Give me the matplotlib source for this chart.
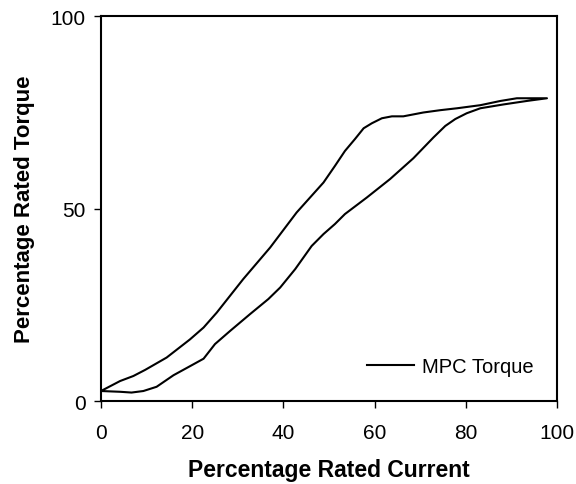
import matplotlib
matplotlib.use("Agg")
import matplotlib.pyplot as plt

plt.rcParams["font.family"] = ["Liberation Sans", "DejaVu Sans"]

# loop: rising branch (upper) then falling branch (lower) back to start
current = [0, 4.2, 7.1, 9.7, 14.4, 19.5, 22.5, 25.4, 31.2, 37.1, 42.9, 48.8,
           51.3, 53.5, 55.7, 57.6, 59.4, 61.6, 63.8, 66.3, 70.7, 74.4, 78.1,
           83.2, 87.6, 91.2, 97.8,
           93.4, 88.3, 83.2, 80.2, 77.7, 75.5, 72.9, 68.5, 63.4, 58.3, 53.5,
           51.3, 48.8, 46.2, 42.6, 39.3, 36.7, 32.7, 28.3, 25.0, 22.5, 19.9,
           15.9, 12.2, 9.3, 6.7, 4.2, 0]
torque = [2.6, 5.2, 6.5, 8.1, 11.3, 16.0, 19.1, 23.0, 31.7, 39.9, 49.0, 56.8,
          61.1, 65.0, 68.1, 70.9, 72.2, 73.5, 74.0, 74.0, 75.0, 75.6, 76.1,
          76.9, 78.0, 78.7, 78.7,
          78.0, 77.1, 76.1, 74.8, 73.3, 71.5, 68.5, 63.1, 57.7, 52.9, 48.6,
          46.0, 43.4, 40.3, 34.3, 29.5, 26.5, 22.6, 18.2, 14.8, 11.0, 9.3,
          6.7, 3.7, 2.6, 2.2, 2.4, 2.6]
xticks = [0, 20, 40, 60, 80, 100]
yticks = [0, 50, 100]

fig = plt.figure(figsize=(5.76, 4.85), dpi=100)
ax = fig.add_axes([0.1753, 0.1711, 0.7917, 0.7932])
ax.plot(current, torque, color="black", lw=1.5, label="MPC Torque")

ax.set_xlim(0, 100); ax.set_ylim(0, 100)
ax.set_xticks(xticks); ax.set_yticks(yticks)
ax.tick_params(direction="out", length=5, width=1, labelsize=15)
ax.tick_params(axis="x", pad=11)
ax.tick_params(axis="y", pad=6)
for s in ax.spines.values():
    s.set_linewidth(1.5)
ax.set_xlabel("Percentage Rated Current", fontsize=16.5, fontweight="bold", labelpad=11.5)
ax.set_ylabel("Percentage Rated Torque", fontsize=16, fontweight="bold", labelpad=11.5)
ax.legend(loc="center left", bbox_to_anchor=(0.583, 0.089), frameon=False,
          fontsize=14.5, handlelength=2.35, handletextpad=0.4,
          borderpad=0, borderaxespad=0)

fig.savefig("out.png", dpi=100)
